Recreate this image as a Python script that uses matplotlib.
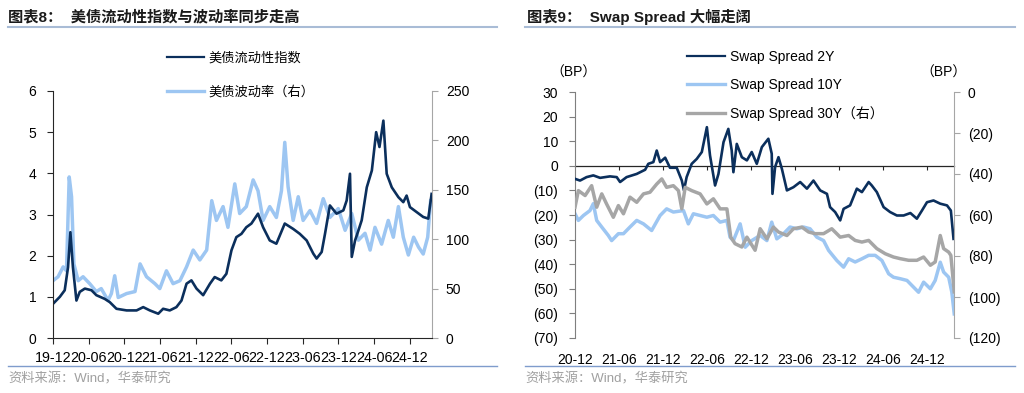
import pandas as pd
import matplotlib.pyplot as plt
import matplotlib.dates as mdates
from matplotlib.lines import Line2D
from matplotlib.ticker import FuncFormatter, MultipleLocator

plt.rcParams['font.family'] = ['Liberation Sans', 'Noto Sans CJK SC']

# ---- chart 8: liquidity index vs volatility ----
liq_dates = ["2019-12-01", "2020-01-05", "2020-01-30", "2020-02-16", "2020-02-28", "2020-03-12",
             "2020-03-30", "2020-04-16", "2020-05-12", "2020-06-15", "2020-07-10", "2020-08-22",
             "2020-09-17", "2020-10-21", "2020-12-12", "2021-02-01", "2021-03-07", "2021-04-10",
             "2021-05-23", "2021-06-17", "2021-07-21", "2021-08-24", "2021-09-19", "2021-10-15",
             "2021-11-09", "2021-12-05", "2022-01-08", "2022-02-12", "2022-03-08", "2022-04-11",
             "2022-05-07", "2022-06-02", "2022-06-27", "2022-07-23", "2022-08-17", "2022-09-12",
             "2022-10-16", "2022-11-11", "2022-12-15", "2023-01-18", "2023-03-02", "2023-04-14",
             "2023-05-18", "2023-06-22", "2023-07-26", "2023-08-12", "2023-09-07", "2023-09-24",
             "2023-10-19", "2023-11-22", "2023-12-27", "2024-01-13", "2024-01-30", "2024-02-08",
             "2024-02-25", "2024-03-13", "2024-03-30", "2024-04-25", "2024-05-21", "2024-06-12",
             "2024-06-29", "2024-07-19", "2024-08-05", "2024-08-31", "2024-10-04", "2024-10-29",
             "2024-11-15", "2024-12-02", "2025-01-05", "2025-02-08", "2025-03-06", "2025-03-23"]
liq_index = [0.83, 1.00, 1.16, 1.72, 2.57, 1.72,
             0.91, 1.12, 1.20, 1.16, 1.04, 0.95,
             0.87, 0.71, 0.67, 0.67, 0.75, 0.67,
             0.59, 0.71, 0.67, 0.75, 0.91, 1.32,
             1.40, 1.20, 1.04, 1.32, 1.48, 1.40,
             1.56, 2.13, 2.45, 2.53, 2.69, 2.78,
             3.02, 2.69, 2.37, 2.29, 2.78, 2.65,
             2.53, 2.37, 2.05, 1.93, 2.09, 2.53,
             3.22, 3.02, 3.10, 3.34, 3.99, 1.97,
             2.37, 2.61, 2.86, 3.66, 4.07, 5.00,
             4.64, 5.28, 3.99, 3.66, 3.42, 3.30,
             3.46, 3.18, 3.06, 2.94, 2.90, 3.50]

vol_dates = ["2019-12-01", "2019-12-27", "2020-01-22", "2020-02-08", "2020-02-22", "2020-03-05",
             "2020-03-17", "2020-04-08", "2020-05-03", "2020-06-06", "2020-07-10", "2020-08-04",
             "2020-09-08", "2020-09-25", "2020-10-12", "2020-10-30", "2020-12-12", "2021-01-24",
             "2021-02-19", "2021-03-24", "2021-05-06", "2021-05-31", "2021-07-04", "2021-08-07",
             "2021-09-11", "2021-10-15", "2021-11-18", "2021-12-22", "2022-01-26", "2022-02-21",
             "2022-03-17", "2022-04-20", "2022-05-15", "2022-06-19", "2022-07-14", "2022-08-17",
             "2022-09-21", "2022-10-16", "2022-11-11", "2022-12-15", "2023-01-18", "2023-02-13",
             "2023-03-02", "2023-03-19", "2023-04-14", "2023-05-10", "2023-06-04", "2023-07-09",
             "2023-08-12", "2023-09-15", "2023-10-19", "2023-12-01", "2024-01-05", "2024-02-08",
             "2024-03-13", "2024-04-16", "2024-05-12", "2024-06-06", "2024-07-10", "2024-08-13",
             "2024-09-08", "2024-10-04", "2024-10-29", "2024-11-24", "2024-12-21", "2025-01-15",
             "2025-02-08", "2025-03-03", "2025-03-18"]
vol_index = [58, 62, 72, 68, 163, 143,
             75, 58, 62, 55, 47, 50,
             38, 45, 63, 41, 45, 47,
             75, 62, 55, 50, 68, 55,
             58, 72, 89, 79, 89, 139,
             119, 133, 112, 156, 126, 133,
             160, 149, 119, 133, 122, 149,
             198, 153, 119, 143, 119, 129,
             116, 141, 122, 131, 109, 126,
             99, 106, 89, 112, 95, 119,
             102, 133, 102, 84, 102, 92,
             85, 102, 139]

# ---- chart 9: swap spreads ----
s2y_dates = ["2020-12-01", "2020-12-22", "2021-01-18", "2021-02-15", "2021-03-15", "2021-04-25",
             "2021-05-23", "2021-06-06", "2021-07-03", "2021-08-14", "2021-09-18", "2021-10-01",
             "2021-10-22", "2021-11-05", "2021-11-19", "2021-12-10", "2021-12-30", "2022-01-27",
             "2022-02-17", "2022-02-26", "2022-03-09", "2022-03-30", "2022-04-20", "2022-05-11",
             "2022-06-01", "2022-06-14", "2022-07-05", "2022-07-19", "2022-08-09", "2022-08-29",
             "2022-09-12", "2022-09-19", "2022-10-03", "2022-10-24", "2022-11-14", "2022-12-04",
             "2022-12-25", "2023-01-15", "2023-02-11", "2023-02-25", "2023-02-28", "2023-03-11",
             "2023-03-25", "2023-04-08", "2023-04-29", "2023-05-26", "2023-06-23", "2023-07-21",
             "2023-08-17", "2023-09-14", "2023-10-12", "2023-10-25", "2023-11-15", "2023-12-06",
             "2023-12-20", "2024-01-16", "2024-02-13", "2024-03-05", "2024-04-02", "2024-04-15",
             "2024-05-06", "2024-06-03", "2024-06-30", "2024-07-28", "2024-08-25", "2024-09-22",
             "2024-10-19", "2024-11-09", "2024-11-30", "2024-12-27", "2025-01-24", "2025-02-21",
             "2025-03-09", "2025-03-20"]
swap_2y = [-5.3, -6.0, -4.6, -3.9, -4.9, -4.3,
           -4.6, -6.6, -4.6, -3.3, -1.6, 0.8,
           1.5, 6.2, 1.5, 3.3, -0.8, -0.8,
           -6.0, -10.0, -4.6, 0.8, 2.8, 5.6,
           15.7, 4.2, -8.0, -3.3, 9.6, 15.0,
           6.2, -2.6, 8.9, 3.5, 2.2, 5.6,
           0.8, 7.6, 11.0, 4.9, -11.4, -0.5,
           3.5, -1.2, -10.0, -8.7, -6.6, -9.3,
           -6.0, -10.0, -11.4, -16.8, -18.8, -22.2,
           -17.5, -16.1, -9.3, -10.7, -6.6, -8.0,
           -10.7, -16.8, -18.8, -20.2, -20.2, -19.2,
           -21.5, -18.2, -14.8, -14.1, -15.4, -16.1,
           -18.2, -29.7]

s10y_dates = ["2020-12-01", "2020-12-15", "2021-01-05", "2021-02-01", "2021-02-15", "2021-03-01",
              "2021-03-22", "2021-04-18", "2021-05-02", "2021-05-30", "2021-06-20", "2021-07-17",
              "2021-08-14", "2021-09-11", "2021-10-15", "2021-11-19", "2021-12-16", "2022-01-13",
              "2022-02-24", "2022-03-16", "2022-04-06", "2022-05-04", "2022-06-01", "2022-06-28",
              "2022-07-26", "2022-08-23", "2022-09-05", "2022-09-19", "2022-10-17", "2022-11-07",
              "2022-12-04", "2023-01-08", "2023-02-05", "2023-02-25", "2023-03-18", "2023-04-15",
              "2023-05-12", "2023-06-09", "2023-07-07", "2023-08-03", "2023-08-31", "2023-09-28",
              "2023-10-19", "2023-11-22", "2023-12-20", "2024-01-10", "2024-02-06", "2024-03-05",
              "2024-04-02", "2024-04-29", "2024-05-27", "2024-06-24", "2024-07-14", "2024-08-11",
              "2024-09-08", "2024-10-05", "2024-10-26", "2024-11-16", "2024-12-14", "2025-01-03",
              "2025-01-24", "2025-02-07", "2025-02-28", "2025-03-13", "2025-03-23"]
swap_10y = [-19.5, -22.2, -20.2, -18.2, -15.4, -22.2,
            -24.9, -28.3, -30.4, -27.6, -27.6, -24.9,
            -22.2, -23.6, -26.3, -20.2, -17.5, -18.8,
            -18.2, -23.6, -19.5, -20.2, -20.9, -20.2,
            -22.9, -22.2, -29.0, -30.4, -23.6, -33.1,
            -30.4, -28.3, -30.4, -22.9, -29.7, -27.6,
            -24.9, -25.6, -24.9, -25.6, -29.0, -30.4,
            -34.4, -38.5, -41.2, -37.8, -39.1, -37.8,
            -36.4, -36.4, -38.5, -43.9, -45.3, -45.9,
            -46.6, -49.3, -51.4, -47.3, -50.0, -46.6,
            -39.2, -43.2, -45.3, -51.4, -60.2]

s30y_dates = ["2020-12-01", "2020-12-15", "2021-01-12", "2021-02-08", "2021-03-01", "2021-03-22",
              "2021-04-11", "2021-05-09", "2021-05-30", "2021-06-20", "2021-07-17", "2021-08-14",
              "2021-09-11", "2021-10-08", "2021-11-05", "2021-11-26", "2021-12-16", "2022-01-13",
              "2022-02-03", "2022-02-17", "2022-03-03", "2022-03-30", "2022-05-04", "2022-06-01",
              "2022-06-28", "2022-07-26", "2022-08-23", "2022-09-08", "2022-09-26", "2022-10-24",
              "2022-11-14", "2022-12-18", "2023-01-08", "2023-02-05", "2023-03-04", "2023-03-25",
              "2023-04-29", "2023-05-26", "2023-06-30", "2023-07-28", "2023-08-24", "2023-09-28",
              "2023-11-01", "2023-12-06", "2024-01-10", "2024-02-06", "2024-03-05", "2024-04-02",
              "2024-05-06", "2024-06-10", "2024-07-14", "2024-08-11", "2024-09-15", "2024-10-19",
              "2024-11-16", "2024-12-14", "2025-01-03", "2025-01-24", "2025-02-07", "2025-02-28",
              "2025-03-09", "2025-03-23"]
swap_30y = [-56.2, -48.1, -50.5, -45.7, -56.2, -49.7,
            -54.6, -61.1, -55.4, -59.4, -51.3, -53.8,
            -49.7, -48.9, -44.9, -42.4, -46.5, -45.7,
            -48.1, -57.0, -46.5, -48.1, -49.7, -54.6,
            -52.1, -57.0, -57.0, -70.8, -74.0, -75.6,
            -70.8, -77.2, -66.7, -71.6, -65.9, -68.3,
            -70.0, -66.7, -65.9, -68.3, -69.1, -69.1,
            -66.7, -70.8, -70.0, -72.4, -73.2, -72.4,
            -76.4, -78.9, -80.5, -81.3, -82.1, -82.1,
            -80.5, -84.5, -82.9, -70.0, -76.4, -78.1,
            -79.7, -97.5]

NAVY = '#0b2f5c'
LIGHT = '#9dc6f2'
GRAY = '#a6a6a6'
W, H = 1024, 393


def fx(px):
    return px / W


def fy(py):
    return 1 - py / H


def paren_fmt(v, pos):
    return f"({abs(v):.0f})" if v < 0 else f"{v:.0f}"


fig = plt.figure(figsize=(W / 100, H / 100), dpi=100)

# ---------------- left panel ----------------
ax1 = fig.add_axes([fx(53), fy(338), fx(432) - fx(53), fy(91) - fy(338)])
ax1b = ax1.twinx()
ax1.set_zorder(ax1b.get_zorder() + 1)
ax1.patch.set_visible(False)

l1, = ax1.plot(pd.to_datetime(liq_dates), liq_index, color=NAVY, lw=1.9)
l2, = ax1b.plot(pd.to_datetime(vol_dates), vol_index, color=LIGHT, lw=2.5)

ax1.set_xlim(pd.Timestamp('2019-12-01'), pd.Timestamp('2025-03-25'))
ax1.set_xticks(pd.date_range('2019-12-01', '2024-12-01', freq='6MS'))
ax1.xaxis.set_major_formatter(mdates.DateFormatter('%y-%m'))
ax1.set_ylim(0, 6)
ax1.yaxis.set_major_locator(MultipleLocator(1))
ax1b.set_ylim(0, 250)
ax1b.yaxis.set_major_locator(MultipleLocator(50))

for a in (ax1, ax1b):
    a.spines['top'].set_visible(False)
ax1.spines['right'].set_visible(False)
ax1.spines['left'].set_color('#262626')
ax1.spines['bottom'].set_color('#262626')
ax1b.spines['left'].set_visible(False)
ax1b.spines['bottom'].set_visible(False)
ax1b.spines['right'].set_color('#a6a6a6')
ax1.tick_params(axis='x', length=4, color='#262626', labelsize=10.3, pad=5)
ax1.tick_params(axis='y', length=4, color='#262626', labelsize=10, pad=8)
ax1b.tick_params(axis='y', length=4, color='#a6a6a6', labelsize=10, pad=6)

leg1 = fig.legend([l1, l2], ['美债流动性指数', '美债波动率（右）'], loc='upper left',
                  bbox_to_anchor=(fx(167), fy(52)), bbox_transform=fig.transFigure,
                  frameon=False, fontsize=9.5, handlelength=2.8, handletextpad=0.35,
                  labelspacing=1.62, borderpad=0, borderaxespad=0)
for h, w in zip(leg1.get_lines(), (1.6, 2.4)):
    h.set_linewidth(w)

# ---------------- right panel ----------------
ax2 = fig.add_axes([fx(575), fy(338), fx(954) - fx(575), fy(92) - fy(338)])
ax2b = ax2.twinx()

m1, = ax2.plot(pd.to_datetime(s2y_dates), swap_2y, color=NAVY, lw=1.9, zorder=3)
m2, = ax2.plot(pd.to_datetime(s10y_dates), swap_10y, color=LIGHT, lw=2.5, zorder=2)
m3, = ax2b.plot(pd.to_datetime(s30y_dates), swap_30y, color=GRAY, lw=2.5)

x_ticks2 = pd.date_range('2020-12-01', '2024-12-01', freq='6MS')
ax2.set_xlim(pd.Timestamp('2020-12-01'), pd.Timestamp('2025-03-22'))
ax2.set_xticks(x_ticks2)
ax2.xaxis.set_major_formatter(mdates.DateFormatter('%y-%m'))
ax2.set_ylim(-70, 30)
ax2.yaxis.set_major_locator(MultipleLocator(10))
ax2.yaxis.set_major_formatter(FuncFormatter(paren_fmt))
ax2b.set_ylim(-120, 0)
ax2b.yaxis.set_major_locator(MultipleLocator(20))
ax2b.yaxis.set_major_formatter(FuncFormatter(paren_fmt))

for a in (ax2, ax2b):
    a.spines['top'].set_visible(False)
    a.spines['bottom'].set_visible(False)
ax2.spines['right'].set_visible(False)
ax2b.spines['left'].set_visible(False)
ax2.spines['left'].set_color('#7f7f7f')
ax2b.spines['right'].set_color('#a6a6a6')
ax2.tick_params(axis='x', length=0, labelsize=10, pad=11)
ax2.tick_params(axis='y', length=4, color='#7f7f7f', labelsize=10, pad=8)
ax2b.tick_params(axis='y', length=4, color='#a6a6a6', labelsize=10, pad=6)

# zero line with its own tick marks
zero = ax2.secondary_xaxis(0.7)
zero.set_xticks(x_ticks2[1:])
zero.tick_params(axis='x', direction='in', length=3, color='#262626',
                 labeltop=False, labelbottom=False)
for s in zero.spines.values():
    s.set_color('#262626')
    s.set_linewidth(0.9)

leg2 = fig.legend([m1, m2, m3], ['Swap Spread 2Y', 'Swap Spread 10Y', 'Swap Spread 30Y（右）'],
                  loc='upper left', bbox_to_anchor=(fx(687), fy(50)), bbox_transform=fig.transFigure,
                  frameon=False, fontsize=10, handlelength=2.75, handletextpad=0.35,
                  labelspacing=1.02, borderpad=0, borderaxespad=0)
for h, w in zip(leg2.get_lines(), (1.6, 2.4, 2.4)):
    h.set_linewidth(w)

fig.text(fx(573), fy(73), '（BP）', ha='center', va='center', fontsize=10)
fig.text(fx(943), fy(73), '（BP）', ha='center', va='center', fontsize=10)

# ---------------- titles, rules, sources ----------------
fig.text(fx(8), fy(17), '图表8：  美债流动性指数与波动率同步走高', fontsize=11,
         fontweight='bold', va='center', color='#1a1a1a')
fig.text(fx(527), fy(17), '图表9：  Swap Spread 大幅走阔', fontsize=11,
         fontweight='bold', va='center', color='#1a1a1a')
for x0, x1 in ((8, 497), (525, 1015)):
    fig.add_artist(Line2D([fx(x0), fx(x1)], [fy(27), fy(27)], color='#a9bcd6', lw=1.5))
    fig.add_artist(Line2D([fx(x0), fx(x1)], [fy(366), fy(366)], color='#7f9ccc', lw=1.0))
fig.text(fx(8), fy(379), '资料来源：Wind，华泰研究', fontsize=9.5, va='center', color='#a0a0a0')
fig.text(fx(525), fy(379), '资料来源：Wind，华泰研究', fontsize=9.5, va='center', color='#a0a0a0')

fig.savefig('out.png', dpi=100)
